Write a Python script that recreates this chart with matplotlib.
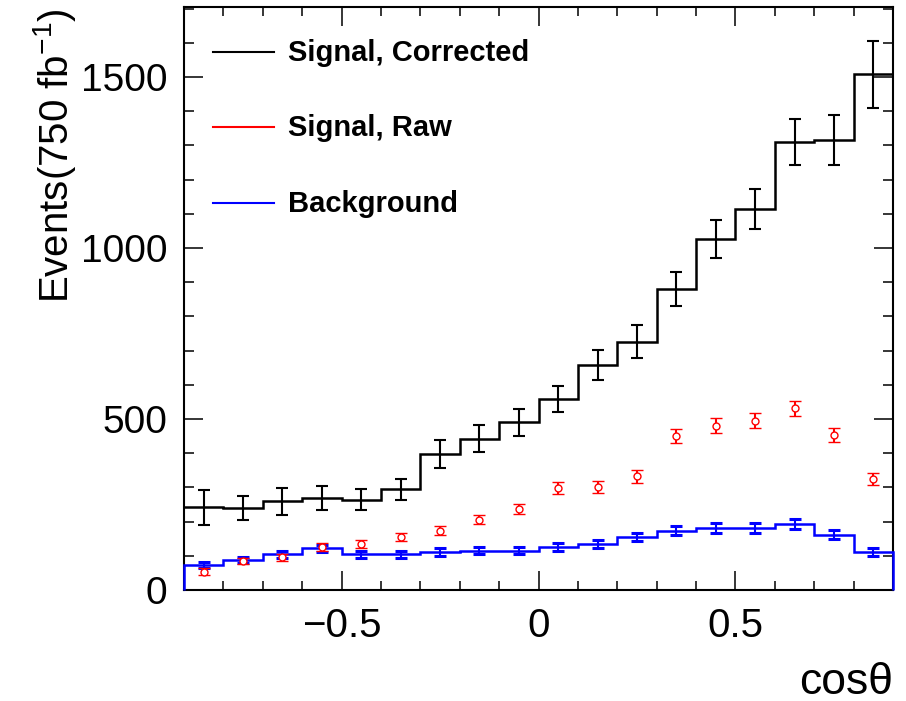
import numpy as np
import matplotlib
matplotlib.use("Agg")
import matplotlib.pyplot as plt
from matplotlib.ticker import MultipleLocator, FixedLocator

# ---- data ----
bin_edges = np.round(np.arange(-0.9, 0.9001, 0.1), 2)
signal_corrected = [242, 240, 259, 268, 264, 295, 398, 443, 490, 558, 657, 726, 880, 1026, 1115, 1309, 1316, 1508]
signal_corrected_err = [51, 36, 40, 35, 31, 31, 40, 40, 40, 38, 44, 48, 50, 55, 58, 67, 72, 97]
signal_raw = [54, 86, 96, 125, 134, 154, 173, 206, 236, 299, 301, 332, 451, 481, 495, 531, 454, 325]
signal_raw_err = [10, 9, 10, 11, 12, 12, 13, 14, 15, 17, 17, 18, 21, 22, 22, 23, 21, 18]
background = [73, 87, 104, 122, 104, 104, 111, 115, 115, 126, 135, 155, 173, 182, 182, 193, 162, 111]
background_err = [9, 9, 10, 11, 10, 10, 11, 11, 11, 11, 12, 12, 13, 14, 14, 14, 13, 11]
legend_labels = ["Signal, Corrected", "Signal, Raw", "Background"]
x_ticks = [-0.5, 0, 0.5]
x_tick_labels = ["\u22120.5", "0", "0.5"]
y_ticks = [0, 500, 1000, 1500]

centers = 0.5 * (bin_edges[:-1] + bin_edges[1:])

W, H = 906, 701
fig = plt.figure(figsize=(W / 100, H / 100), dpi=100)
L, R, T, B = 184, 893, 7, 590
ax = fig.add_axes([L / W, 1 - B / H, (R - L) / W, (B - T) / H])

lw = 1.8
# black histogram
ax.stairs(signal_corrected, bin_edges, color="black", lw=lw, baseline=None, zorder=3)
ax.errorbar(centers, signal_corrected, yerr=signal_corrected_err, fmt="none",
            ecolor="black", elinewidth=1.5, capsize=4.3, capthick=1.5, zorder=3)
# blue histogram
ax.stairs(background, bin_edges, color="blue", lw=lw, baseline=0, zorder=4, clip_on=False)
ax.errorbar(centers, background, yerr=background_err, fmt="none",
            ecolor="blue", elinewidth=1.5, capsize=4.3, capthick=2.2, zorder=4)
# red points
ax.errorbar(centers, signal_raw, yerr=signal_raw_err, fmt="o", ms=5, mfc="white",
            mec="red", mew=1.0, ecolor="red", elinewidth=1.5, capsize=4.3, capthick=2.2, zorder=5)

ax.set_xlim(-0.9, 0.9)
ax.set_ylim(0, 1705)

ax.xaxis.set_major_locator(FixedLocator(x_ticks))
ax.xaxis.set_minor_locator(MultipleLocator(0.1))
ax.yaxis.set_major_locator(FixedLocator(y_ticks))
ax.yaxis.set_minor_locator(MultipleLocator(100))
ax.set_xticklabels(x_tick_labels)

ax.tick_params(axis="both", which="both", direction="in", top=True, right=True, width=1.1)
ax.tick_params(axis="x", which="major", length=13.5, pad=12)
ax.tick_params(axis="x", which="minor", length=6.8)
ax.tick_params(axis="y", which="major", length=14, pad=12)
ax.tick_params(axis="y", which="minor", length=7.5)
for s in ax.spines.values():
    s.set_linewidth(1.5)

for lab in ax.get_yticklabels():
    lab.set_fontfamily(["Liberation Sans", "DejaVu Sans"])
    lab.set_fontsize(28)
for lab in ax.get_xticklabels():
    lab.set_fontfamily(["Liberation Sans", "DejaVu Sans"])
    lab.set_fontsize(29)

ax.set_ylabel("Events(750 fb$^{\\mathregular{-1}}$)", fontsize=29,
              fontfamily=["Liberation Sans", "DejaVu Sans"])
ax.yaxis.set_label_coords(-0.15, 0.745)
ax.text(1.0, -0.178, "cos\u03b8", transform=ax.transAxes, ha="right", va="baseline",
        fontsize=32, fontfamily=["Liberation Sans", "DejaVu Sans"])

# legend drawn in axes coordinates
leg_colors = ["black", "red", "blue"]
for i, (lab, c) in enumerate(zip(legend_labels, leg_colors)):
    yl = 0.923 - i * 0.1295
    ax.plot([0.041, 0.127], [yl, yl], transform=ax.transAxes, color=c, lw=1.5)
    ax.text(0.147, yl - 0.0155, lab, transform=ax.transAxes, ha="left", va="baseline",
            fontsize=21, fontweight="bold", fontfamily=["Liberation Sans", "DejaVu Sans"])

fig.savefig("out.png", dpi=100)
